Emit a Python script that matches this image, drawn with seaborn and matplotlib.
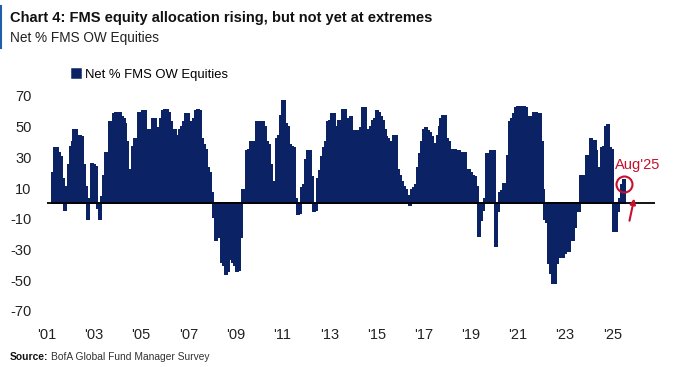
import numpy as np
import pandas as pd
import matplotlib
matplotlib.use("Agg")
import matplotlib.pyplot as plt
import seaborn as sns

# monthly net % FMS overweight equities, May 2001 .. Aug 2025
start_month = "2001-05"
net_ow = [
    20, 36, 36, 33, 30, 16, -4, 11, 25, 37, 40, 48, 48, 44, 44, 43, 25, 11, -10, 3,
    26, 25, 24, -3, -10, 4, 18, 33, 33, 53, 53, 58, 59, 59, 59, 56, 55, 52, 40, 20,
    22, 37, 42, 42, 59, 59, 60, 60, 42, 48, 48, 55, 55, 49, 49, 55, 60, 61, 61, 59,
    53, 48, 48, 38, 44, 48, 50, 53, 58, 58, 53, 53, 55, 60, 61, 60, 42, 38, 35, 23,
    20, 7, -9, -24, -22, -19, -38, -40, -46, -44, -36, -36, -38, -40, -44, -43, -22, 9, 9, 34,
    35, 40, 40, 40, 53, 53, 53, 53, 50, 40, 38, 25, 14, 14, 42, 44, 57, 67, 67, 52,
    50, 38, 37, 36, 3, -7, -6, 10, 12, 28, 34, 34, 17, -5, -4, 16, 21, 30, 36, 40,
    53, 54, 58, 58, 49, 50, 54, 54, 61, 61, 55, 55, 56, 47, 47, 47, 47, 49, 62, 62,
    48, 48, 50, 54, 55, 60, 59, 56, 54, 48, 43, 42, 40, 29, 44, 44, 22, 18, 14, 11,
    9, 5, -1, 9, 10, 12, 23, 32, 40, 48, 49, 47, 46, 43, 39, 38, 44, 50, 55, 57,
    57, 42, 40, 35, 35, 35, 34, 34, 22, 33, 33, 22, 22, 20, 18, 17, 11, -21, -11, -4,
    3, 32, 32, 34, 34, 34, -28, -5, 7, 8, 13, 13, 31, 53, 55, 58, 62, 63, 63, 63,
    63, 62, 56, 56, 56, 59, 59, 58, 58, 40, 9, -10, -12, -39, -45, -52, -52, -39, -35, -35,
    -35, -32, -31, -31, -24, -24, -15, -5, -5, 18, 18, 18, 31, 31, 42, 41, 41, 34, 23, 14,
    36, 37, 50, 51, 36, 35, -18, -18, -5, 3, 12, 15,
]
tick_years = list(range(2001, 2026, 2))
tick_labels = ["'" + str(y)[2:] for y in tick_years]
y_ticks = [70, 50, 30, 10, -10, -30, -50, -70]

navy = "#0b2265"
red = "#c8102e"

df = pd.DataFrame({"pos": np.arange(len(net_ow)), "value": net_ow})
start = pd.Period(start_month, freq="M")

plt.rcParams["font.family"] = ["Liberation Sans", "DejaVu Sans"]

fig = plt.figure(figsize=(6.76, 3.67), dpi=100)
ax = fig.add_axes([0.0695, 0.1526, 0.9, 0.5859])

sns.barplot(data=df, x="pos", y="value", width=1.0, color=navy, saturation=1,
            edgecolor=navy, linewidth=1.1, label="Net % FMS OW Equities", ax=ax)
# no seams between neighbouring months
for p in ax.patches:
    p.set_antialiased(False)

ax.axhline(0, color="black", lw=1.3, zorder=3)
ax.set_ylim(-70, 70)
ax.set_xlim(-2.5, len(net_ow) + 15)
ax.set_yticks(y_ticks)
ax.set_yticklabels([str(v) for v in y_ticks])
# labels sit a month into the year
tick_pos = [(pd.Period(f"{y}-02", freq="M") - start).n for y in tick_years]
ax.set_xticks(tick_pos)
ax.set_xticklabels(tick_labels)
ax.set_xlabel("")
ax.set_ylabel("")
for s in ax.spines.values():
    s.set_visible(False)
ax.tick_params(axis="both", length=0, labelsize=10.5, colors="#222222")
ax.tick_params(axis="y", pad=11)
ax.tick_params(axis="x", pad=12)

# Aug'25 callout
last = len(net_ow) - 1
ax.plot(last, net_ow[-1] - 2, marker="o", ms=11.5, mfc="none", mec=red, mew=1.5,
        zorder=4, clip_on=False)
ax.text(last + 7, net_ow[-1] + 10, "Aug'25", color=red, fontsize=10.5,
        ha="center", va="center")
ax.annotate("", xy=(last + 5.5, net_ow[-1] - 10), xytext=(last + 2.5, net_ow[-1] - 28),
            arrowprops=dict(arrowstyle="-|>", color=red, lw=1.5, mutation_scale=8),
            annotation_clip=False)

ax.legend(loc="center left", bbox_to_anchor=(0.106, 0.796), bbox_transform=fig.transFigure,
          frameon=False, handlelength=0.75, handleheight=0.75, handletextpad=0.25,
          borderpad=0, borderaxespad=0, fontsize=9.4)

fig.text(0.015, 0.952, "Chart 4: FMS equity allocation rising, but not yet at extremes",
         fontsize=10.5, fontweight="bold", color="#111111", va="center")
fig.text(0.015, 0.896, "Net % FMS OW Equities", fontsize=9.8, color="#222222", va="center")

# source line: bold lead-in, then plain text right after it
src_bold = fig.text(0.015, 0.027, "Source:", fontsize=7.4, fontweight="bold",
                    color="#111111", va="center")
fig.canvas.draw()
bb = src_bold.get_window_extent().transformed(fig.transFigure.inverted())
fig.text(bb.x1 + 0.004, 0.027, "BofA Global Fund Manager Survey", fontsize=7.4,
         color="#333333", va="center")
fig.add_artist(plt.Line2D([0.002, 0.002], [0.87, 0.985], color="#1f5fa8", lw=1.5))

fig.savefig("out.png", dpi=100)
